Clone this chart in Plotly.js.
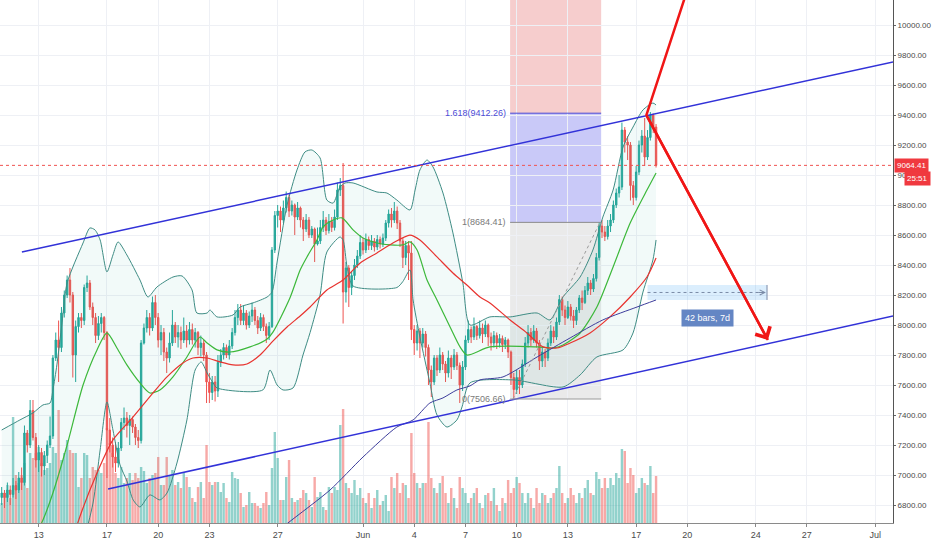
<!DOCTYPE html>
<html><head><meta charset="utf-8">
<script src="https://cdn.plot.ly/plotly-3.0.1.min.js"></script>
<style>html,body{margin:0;padding:0;background:#fff}#chart{width:932px;height:550px}</style>
</head><body><div id="chart"></div>
<script>
// ---------- time base: 4h candles starting 2019-05-10 20:00 UTC ----------
const START_UTC = Date.UTC(2019, 4, 10, 20, 0, 0);
const BAR_MS = 4 * 3600 * 1000;

// ---------- candle data (BTCUSD 4h) ----------
const firstOpen = 6850;
const closes = [
 6880,6850,6900,6870,6930,6900,6980,6950,7280,7200,
 7430,7250,7100,7150,7060,7130,7200,7260,7780,7900,
 7850,8080,8200,8300,8200,7800,7990,8050,8030,8250,
 8280,8120,8050,7930,8010,8050,7950,7300,7200,7120,
 7080,7180,7350,7380,7330,7370,7320,7250,7230,7880,
 7980,8050,7980,8150,8050,7900,7950,7820,7780,7880,
 8000,7920,7950,7900,7960,7900,7970,7900,7950,7850,
 7880,7800,7620,7550,7620,7560,7750,7800,7850,7800,
 7860,7950,8050,8100,8030,8080,8000,8060,8100,8030,
 7980,8050,7990,7930,7990,8500,8730,8760,8700,8780,
 8850,8760,8800,8720,8780,8700,8640,8700,8600,8640,
 8540,8560,8650,8700,8630,8690,8650,8720,8900,8930,
 8220,8380,8250,8330,8400,8460,8550,8500,8570,8530,
 8560,8520,8570,8540,8580,8680,8740,8700,8760,8680,
 8560,8450,8530,8480,7970,7880,7960,7880,7940,7850,
 7700,7620,7780,7700,7800,7740,7680,7780,7720,7800,
 7730,7600,7720,7900,7970,7920,7990,7930,7980,7940,
 8000,7920,7880,7930,7880,7910,7870,7900,7820,7650,
 7570,7650,7600,7740,7880,7950,7900,7960,7880,7760,
 7820,7780,7880,7960,7920,8020,8170,8100,8050,8120,
 8060,8030,8100,8180,8150,8230,8280,8240,8310,8450,
 8660,8620,8590,8660,8700,8800,8880,8920,9300,9220,
 9200,8930,8850,9020,9200,9260,9120,9250,9400,9320,
 9064.41
];
const highs = [
 6920,6900,6950,6930,6980,6960,7020,7050,7330,7300,
 7500,7500,7280,7200,7180,7160,7230,7390,7800,7950,
 8030,8120,8230,8330,8380,8220,8030,8080,8080,8270,
 8330,8300,8150,8080,8060,8080,8060,7960,7380,7250,
 7220,7220,7380,7450,7420,7400,7390,7340,7300,7900,
 8010,8100,8080,8190,8200,8080,8000,7980,7850,7950,
 8100,8020,8000,7990,8050,8000,8020,8010,7980,7960,
 7930,7900,7820,7680,7660,7660,7800,7840,7880,7870,
 7900,7980,8100,8140,8140,8130,8100,8090,8150,8120,
 8060,8080,8070,8010,8020,8520,8760,8800,8790,8830,
 8890,8870,8830,8810,8820,8790,8720,8740,8720,8660,
 8650,8650,8700,8760,8720,8740,8720,8770,8950,8980,
 9080,8420,8400,8360,8440,8500,8600,8580,8610,8590,
 8600,8580,8600,8590,8610,8700,8770,8780,8820,8790,
 8700,8580,8560,8560,8560,8000,8000,7980,7980,7960,
 7870,7730,7800,7800,7850,7820,7760,7830,7800,7840,
 7820,7750,7760,7930,8030,7990,8050,8000,8030,8010,
 8030,8010,7950,7960,7950,7940,7930,7920,7910,7830,
 7680,7700,7700,7770,7920,8000,7980,8000,7980,7900,
 7850,7840,7910,8000,7990,8050,8200,8190,8130,8160,
 8140,8100,8120,8200,8230,8260,8320,8300,8340,8480,
 8684.41,8700,8660,8700,8740,8830,8910,9000,9350,9320,
 9260,9220,8960,9060,9230,9300,9380,9300,9420,9410,
 9340
];
const lows = [
 6800,6780,6820,6800,6850,6840,6880,6900,6930,7150,
 7180,7230,7050,7020,6990,7000,7080,7180,7240,7760,
 7620,7820,8050,8180,8150,7650,7620,7950,7980,8000,
 8220,8100,8000,7880,7900,7950,7900,6980,7150,7050,
 7020,7050,7160,7300,7250,7200,7280,7200,7180,7210,
 7870,7950,7930,7960,8000,7850,7800,7760,7680,7750,
 7860,7880,7850,7840,7880,7850,7870,7870,7850,7800,
 7790,7760,7480,7480,7500,7490,7520,7720,7770,7780,
 7770,7840,7930,8000,8000,8000,7970,7980,8020,8000,
 7940,7960,7960,7880,7900,7980,8480,8650,8620,8680,
 8750,8720,8730,8600,8700,8650,8560,8620,8580,8580,
 8420,8530,8540,8620,8600,8610,8620,8630,8700,8860,
 8010,8150,8120,8200,8300,8380,8440,8470,8480,8500,
 8500,8490,8500,8510,8520,8560,8650,8650,8680,8640,
 8520,8380,8400,8300,7900,7800,7830,7780,7850,7790,
 7600,7520,7600,7660,7680,7700,7620,7650,7640,7700,
 7700,7480,7560,7700,7880,7880,7900,7900,7910,7880,
 7920,7860,7830,7850,7840,7850,7820,7840,7780,7600,
 7506.66,7540,7540,7580,7720,7850,7860,7880,7850,7700,
 7720,7720,7760,7860,7880,7900,8000,8060,8000,8040,
 8030,7980,8000,8080,8100,8140,8200,8200,8220,8290,
 8430,8580,8560,8570,8620,8680,8780,8850,8900,9150,
 9100,8830,8800,8830,9000,9150,9060,9100,9230,9280,
 9050
];
// volume (units of 40 BTC)
const volumes = [
 20,30,38,25,106,48,40,48,60,35,
 70,65,70,76,60,53,55,60,76,70,
 113,63,70,83,73,70,70,36,45,70,
 68,45,56,53,53,50,60,95,80,70,
 50,45,56,40,45,50,43,50,45,56,
 52,40,45,48,50,66,38,38,66,48,
 53,38,41,35,50,46,36,25,21,36,
 41,25,78,41,38,41,41,31,40,25,
 21,51,45,44,30,16,18,31,20,20,
 17,15,20,31,18,55,91,65,23,23,
 46,63,25,21,23,25,33,30,23,16,
 46,26,31,16,13,36,30,36,33,98,
 114,40,35,30,43,28,35,25,20,30,
 15,25,33,18,22,28,12,46,35,50,
 30,40,38,25,90,50,40,35,40,40,
 101,45,35,30,40,47,30,20,35,25,
 15,46,35,30,20,25,30,35,20,15,
 28,30,22,35,18,12,25,20,43,30,
 35,46,40,30,20,30,25,15,35,20,
 30,28,20,25,30,35,57,30,20,25,
 35,28,20,30,25,35,43,30,28,51,
 44,35,45,35,45,38,50,45,74,72,
 40,55,48,30,35,45,40,38,57,30,
 47
];

// ---------- indicators (bar index, price) ----------
const bbUpIdx = [0,6.4,11,14.5,17,18,19.4,21.2,23,28.6,31,32.8,34.6,37,39.1,40.9,44,48.6,51.4,54.6,60.2,63.4,66.9,68.6,72.2,73.2,75.7,81.3,83.8,88.3,93.3,95,96.8,100.3,103.8,106.6,109,111.9,114.3,116.5,118.9,120.7,123.5,131.9,135.4,138.9,143.5,145.3,147,149.5,151.6,155.1,158.6,162.1,164.6,171.6,178.7,188.2,192.7,197.3,203.3,207.8,211.3,214.9,218.4,221.9,225.4,228.9,230];
const bbUpVal = [7300,7367,7414,7467,7480,7567,7734,8014,8280,8547,8647,8634,8567,8354,8467,8554,8467,8300,8187,8254,8320,8327,8234,8080,8080,8100,8054,8067,8120,8147,8187,8220,8420,8800,9034,9154,9167,9114,8833,8813,8920,8947,8947,8887,8880,8833,8767,8900,9034,9100,9054,8880,8614,8280,8000,8054,8054,8080,8034,8187,8320,8500,8720,8900,9187,9320,9434,9480,9467];
const bbLoIdx = [0,14.5,23,28.6,32.1,34.6,37,39.1,41.6,44,46.2,48.6,52.1,55.6,58.1,61.6,65.1,68,70.1,72.2,74.3,75.7,91.8,94.3,96.8,98.9,102.4,105.9,108.4,111.9,114.3,118.9,120,121.4,123.5,138.9,141,143.5,144.6,147,150.5,153,156.5,160,161.8,164.6,179.7,197.3,203.3,209.2,218.4,221.9,225.4,228.9,230];
const bbLoVal = [5900,5933,6228,6547,6813,7167,7487,7300,7067,6960,6834,6787,6867,6834,6880,7080,7367,7700,7754,7680,7614,7580,7567,7700,7600,7567,7580,7800,7950,8200,8487,8587,8567,8387,8260,8250,8290,8367,8167,7920,7614,7400,7320,7367,7454,7614,7634,7587,7667,7787,7834,7947,8220,8434,8567];
const basisIdx = [0,14.5,18,23,28.6,33.5,37,40.5,44,48.6,52.1,55.6,60.2,65.1,69.7,72.2,75.7,80.2,87.3,93.3,95.4,101.3,104.9,107.3,110.8,113,116.5,119.6,123.5,127,131.9,136.5,141,143.5,146,149.5,153,157.6,161.1,163.5,171.6,188.2,193.8,197.3,203.3,209.2,214.9,220.9,226.8,230];
const basisVal = [6150,6700,6880,7200,7600,7834,7947,7847,7734,7614,7547,7567,7654,7787,7920,7880,7834,7820,7854,7907,7954,8180,8367,8454,8567,8654,8700,8714,8634,8580,8547,8534,8534,8554,8500,8300,8167,7987,7854,7800,7854,7854,7847,7867,7947,8120,8387,8680,8900,9014];
const maRedIdx = [0,20.5,26.5,33.5,39.1,46.2,53.2,58.1,63.7,67.2,72.2,76.7,81.3,86.2,90.8,95.4,100.3,104.9,108.4,114.3,120,126,131.9,137.5,143.5,147,153,158.6,163.5,168.1,171.6,178.7,184.6,190.3,195.2,199.8,206.8,213.8,220.9,226.8,230];
const maRedVal = [5800,6250,6667,7013,7234,7387,7547,7654,7747,7780,7780,7754,7734,7740,7800,7894,7987,8060,8120,8234,8300,8414,8480,8547,8600,8567,8454,8347,8267,8187,8147,8034,7947,7854,7847,7880,7947,8054,8187,8320,8447];
const maNavyIdx = [90.1,100.6,115.4,127,138.9,144.6,150.5,155.1,160,164.6,168.1,176.2,188.2,199.8,211.3,223.3,230];
const maNavyVal = [6520,6680,6900,7120,7320,7367,7480,7514,7567,7594,7634,7654,7787,7914,8034,8120,8167];

// ---------- drawings (bar index, price) ----------
const chanUpIdx = [7.1, 313.3],  chanUpVal = [8487, 9754];
const chanLoIdx = [37.4, 313.3], chanLoVal = [6907, 8060];
const redPathIdx = [241.9, 226.6, 269.3], redPathVal = [10287, 9400, 7900];
const fibIdx = [178.7, 210.7];
const fibRatios = ['0', '1', '1.618'];
const fibLevels = [7506.66, 8684.41, 9412.26, 10590];
const fibTrendIdx = [179.7, 210.3];
const rangeIdx = [227, 269], rangeVal = [8167, 8267];
const rangeLabel = '42 bars, 7d';
const lastPrice = 9064.41, countdown = '25:51';

// ---------- axis ticks ----------
const dateTicks = ['2019-05-13','2019-05-17','2019-05-20','2019-05-23','2019-05-27','2019-06-01','2019-06-04','2019-06-07','2019-06-10','2019-06-13','2019-06-17','2019-06-20','2019-06-24','2019-06-27','2019-07-01'];
const dateTickText = ['13','17','20','23','27','Jun','4','7','10','13','17','20','24','27','Jul'];
const priceTicks = [6800,7000,7200,7400,7600,7800,8000,8200,8400,8600,8800,9000,9200,9400,9600,9800,10000];

// ---------- build ----------
const idxDate = k => new Date(START_UTC + k * BAR_MS).toISOString().slice(0, 19).replace('T', ' ');
const xs = closes.map((c, i) => idxDate(i));
const opens = closes.map((c, i) => i === 0 ? firstOpen : closes[i - 1]);
const volColors = closes.map((c, i) => c >= opens[i] ? 'rgba(38,166,154,0.5)' : 'rgba(239,83,80,0.5)');

const FONT = 'Liberation Sans, Arial, sans-serif';
const lineTrace = (idx, val, color, width, extra) => Object.assign({
  type: 'scatter', mode: 'lines', x: idx.map(idxDate), y: val, yaxis: 'y2',
  line: {color: color, width: width, shape: 'spline', smoothing: 0.7}, hoverinfo: 'skip'
}, extra || {});

const traces = [
  {type: 'bar', x: xs, y: volumes, width: BAR_MS * 0.85, marker: {color: volColors, line: {width: 0}}, yaxis: 'y', hoverinfo: 'skip'},
  lineTrace(bbLoIdx, bbLoVal, '#3e8c84', 1),
  lineTrace(bbUpIdx, bbUpVal, '#3e8c84', 1, {fill: 'tonexty', fillcolor: 'rgba(38,166,154,0.06)'}),
  {type: 'candlestick', x: xs, open: opens, high: highs, low: lows, close: closes, yaxis: 'y2',
   increasing: {line: {color: '#26a69a', width: 1}, fillcolor: '#26a69a'},
   decreasing: {line: {color: '#ef5350', width: 1}, fillcolor: '#ef5350'},
   whiskerwidth: 0, hoverinfo: 'skip'},
  lineTrace(basisIdx, basisVal, '#3cb83a', 1.2),
  lineTrace(maRedIdx, maRedVal, '#e8332f', 1.2),
  lineTrace(maNavyIdx, maNavyVal, '#3d3d9c', 1),
  {type: 'scatter', mode: 'lines', x: chanUpIdx.map(idxDate), y: chanUpVal, yaxis: 'y2', line: {color: '#3232d8', width: 1.5}, hoverinfo: 'skip'},
  {type: 'scatter', mode: 'lines', x: chanLoIdx.map(idxDate), y: chanLoVal, yaxis: 'y2', line: {color: '#3232d8', width: 1.5}, hoverinfo: 'skip'},
  {type: 'scatter', mode: 'lines', x: fibTrendIdx.map(idxDate), y: [fibLevels[0], fibLevels[1]], yaxis: 'y2', line: {color: '#9a9a9a', width: 1, dash: '3px,3px'}, hoverinfo: 'skip'},
  {type: 'scatter', mode: 'lines', x: redPathIdx.map(idxDate), y: redPathVal, yaxis: 'y2', line: {color: '#f01616', width: 2.5}, hoverinfo: 'skip'}
];

const fx0 = idxDate(fibIdx[0]), fx1 = idxDate(fibIdx[1]);
const zoneColors = ['rgba(128,128,128,0.17)', 'rgba(60,60,230,0.28)', 'rgba(220,70,70,0.27)'];
const shapes = [];
for (let k = 0; k < 3; k++) {
  shapes.push({type: 'rect', xref: 'x', yref: 'y2', x0: fx0, x1: fx1, y0: fibLevels[k], y1: fibLevels[k + 1], fillcolor: zoneColors[k], line: {width: 0}, layer: 'below'});
}
const levelColors = ['#9a9a9a', '#8a8a8a', '#4b4bd6'];
for (let k = 0; k < 3; k++) {
  shapes.push({type: 'line', xref: 'x', yref: 'y2', x0: fx0, x1: fx1, y0: fibLevels[k], y1: fibLevels[k], line: {color: levelColors[k], width: 1}});
}
shapes.push({type: 'rect', xref: 'x', yref: 'y2', x0: idxDate(rangeIdx[0]), x1: idxDate(rangeIdx[1]), y0: rangeVal[0], y1: rangeVal[1], fillcolor: 'rgba(33,150,243,0.16)', line: {width: 0}});
const rangeMid = (rangeVal[0] + rangeVal[1]) / 2;
shapes.push({type: 'line', xref: 'x', yref: 'y2', x0: idxDate(rangeIdx[0]), x1: idxDate(rangeIdx[1] - 0.4), y0: rangeMid, y1: rangeMid, line: {color: '#7a8aa6', width: 1, dash: '3px,3px'}});
shapes.push({type: 'line', xref: 'x', yref: 'y2', x0: idxDate(rangeIdx[1]), x1: idxDate(rangeIdx[1]), y0: rangeVal[0], y1: rangeVal[1], line: {color: '#7a8aa6', width: 1}});
shapes.push({type: 'line', xref: 'paper', yref: 'y2', x0: 0, x1: 1, y0: lastPrice, y1: lastPrice, line: {color: '#ef5350', width: 1, dash: 'dot'}});

const fibLabelColors = ['#7a7a7a', '#7a7a7a', '#4b4bd6'];
const annotations = [];
for (let k = 0; k < 3; k++) {
  annotations.push({xref: 'x', yref: 'y2', x: idxDate(fibIdx[0] - 0.6), y: fibLevels[k], xanchor: 'right', yanchor: 'middle',
    text: fibRatios[k] + '(' + fibLevels[k].toFixed(2) + ')', showarrow: false, font: {family: FONT, size: 9, color: fibLabelColors[k]}});
}
annotations.push({xref: 'x', yref: 'y2', x: idxDate((rangeIdx[0] + rangeIdx[1]) / 2), y: rangeVal[0], yanchor: 'top', yshift: -9,
  text: rangeLabel, showarrow: false, bgcolor: '#6486c4', borderpad: 3, font: {family: FONT, size: 9, color: '#ffffff'}});
annotations.push({xref: 'x', yref: 'y2', x: idxDate(rangeIdx[1] - 0.4), y: rangeMid, ax: -9, ay: 0, text: '', showarrow: true,
  arrowhead: 5, arrowsize: 1, arrowwidth: 1, arrowcolor: '#7a8aa6', standoff: 0});
annotations.push({xref: 'x', yref: 'y2', x: idxDate(redPathIdx[2]), y: redPathVal[2], axref: 'x', ayref: 'y2',
  ax: idxDate(redPathIdx[1]), ay: redPathVal[1], text: '', showarrow: true, arrowhead: 4, arrowsize: 1.3, arrowwidth: 2.5, arrowcolor: '#f01616', standoff: 0});
annotations.push({xref: 'paper', yref: 'y2', x: 1, y: lastPrice, xanchor: 'left', yanchor: 'middle', xshift: 1,
  text: lastPrice.toFixed(2), showarrow: false, bgcolor: '#f0393f', borderpad: 2, font: {family: FONT, size: 8, color: '#ffffff'}});
annotations.push({xref: 'paper', yref: 'y2', x: 1, y: lastPrice, xanchor: 'left', yanchor: 'middle', xshift: 11, yshift: -13,
  text: countdown, showarrow: false, bgcolor: '#f0393f', borderpad: 2, font: {family: FONT, size: 8, color: '#ffffff'}});

const layout = {
  width: 932, height: 550,
  margin: {l: 0, r: 39, t: 0, b: 27, pad: 0},
  paper_bgcolor: '#ffffff', plot_bgcolor: '#ffffff',
  showlegend: false, hovermode: false, dragmode: false,
  font: {family: FONT, size: 9, color: '#4a4a4a'},
  xaxis: {type: 'date', range: ['2019-05-10 17:37', '2019-07-02 01:07'],
    tickmode: 'array', tickvals: dateTicks, ticktext: dateTickText,
    tickfont: {family: FONT, size: 9, color: '#4a4a4a'},
    ticks: 'outside', ticklen: 3, tickcolor: '#888',
    showgrid: true, gridcolor: '#eef0f5', gridwidth: 1,
    showline: true, linecolor: '#8a8a8a', linewidth: 1,
    zeroline: false, rangeslider: {visible: false}, fixedrange: true},
  yaxis: {range: [0, 523], visible: false, showgrid: false, zeroline: false, fixedrange: true},
  yaxis2: {overlaying: 'y', side: 'right', range: [6680, 10167],
    tickmode: 'array', tickvals: priceTicks, tickformat: '.2f',
    tickfont: {family: FONT, size: 8, color: '#4a4a4a'},
    ticks: 'outside', ticklen: 2, tickcolor: '#666',
    showgrid: true, gridcolor: '#eef0f5', gridwidth: 1,
    showline: true, linecolor: '#555', linewidth: 1, zeroline: false, fixedrange: true},
  shapes: shapes,
  annotations: annotations
};

Plotly.newPlot('chart', traces, layout, {staticPlot: true, displayModeBar: false});
</script>
</body></html>
